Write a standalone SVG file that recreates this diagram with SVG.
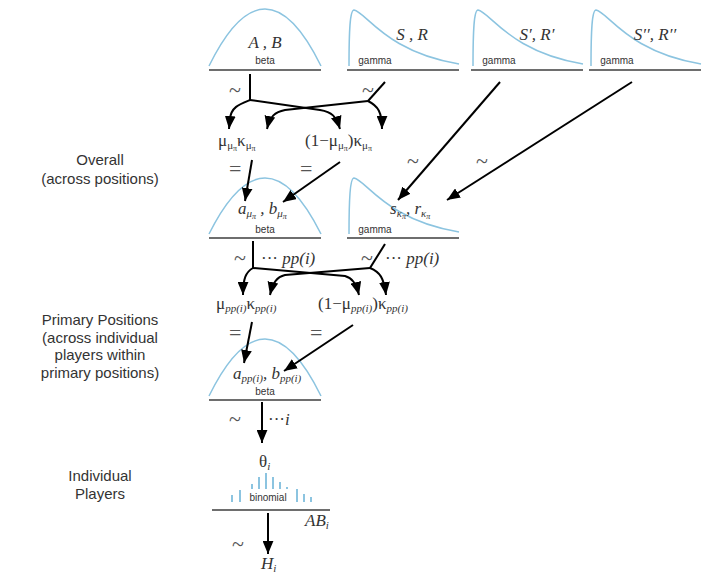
<svg xmlns="http://www.w3.org/2000/svg" width="702" height="573" viewBox="0 0 702 573">
<style>
.dist{fill:none;stroke:#8cc4e0;stroke-width:1.5}
.base{stroke:#6e6e6e;stroke-width:2}
.lbl{font-family:"Liberation Sans",Arial,sans-serif;font-size:10px;fill:#333}
.math{font-family:"Liberation Serif","Times New Roman",serif;font-style:italic;font-size:17px;fill:#333}
.greek{font-family:"Liberation Serif","Times New Roman",serif;font-size:17px;fill:#333}
.sym{font-family:"Liberation Serif","Times New Roman",serif;font-size:22px;fill:#555}
.side{font-family:"Liberation Sans",Arial,sans-serif;font-size:15px;fill:#333;text-anchor:middle}
.con{fill:none;stroke:#000;stroke-width:2}
.bar{stroke:#8cc4e0;stroke-width:2}
.s1{font-size:11px}
.s2{font-size:8px}
</style>
<defs>
<marker id="ah" viewBox="0 0 12 10" refX="12" refY="5" markerWidth="13" markerHeight="11" markerUnits="userSpaceOnUse" orient="auto">
<path d="M0,0 L12,5 L0,10 Z" fill="#000"/>
</marker>
</defs>

<rect width="702" height="573" fill="#fff"/>

<g id="label-overall">
<text class="side" x="100" y="165">Overall</text>
<text class="side" x="100" y="184">(across positions)</text>
</g>
<g id="label-primary">
<text class="side" x="100" y="325">Primary Positions</text>
<text class="side" x="100" y="343">(across individual</text>
<text class="side" x="100" y="360">players within</text>
<text class="side" x="100" y="378">primary positions)</text>
</g>
<g id="label-individual">
<text class="side" x="100" y="481">Individual</text>
<text class="side" x="100" y="499">Players</text>
</g>

<g id="beta-AB">
<path class="dist" d="M209,66 Q265,-48 321,66"/>
<line class="base" x1="209" y1="70" x2="321" y2="70"/>
<text class="math" x="265" y="48" text-anchor="middle">A , B</text>
<text class="lbl" x="265" y="64" text-anchor="middle">beta</text>
</g>
<g id="gamma-SR">
<path class="dist" d="M349,66 C349,30 350,10 354,10 C366,12 386,52 459,64"/>
<line class="base" x1="347" y1="70" x2="459" y2="70"/>
<text class="math" x="412" y="40" text-anchor="middle">S , R</text>
<text class="lbl" x="375" y="64" text-anchor="middle">gamma</text>
</g>
<g id="gamma-SR1">
<path class="dist" d="M473,66 C473,30 474,10 478,10 C490,12 510,52 583,64"/>
<line class="base" x1="471" y1="70" x2="583" y2="70"/>
<text class="math" x="537" y="40" text-anchor="middle">S′, R′</text>
<text class="lbl" x="499" y="64" text-anchor="middle">gamma</text>
</g>
<g id="gamma-SR2">
<path class="dist" d="M591,66 C591,30 592,10 596,10 C608,12 628,52 701,64"/>
<line class="base" x1="589" y1="70" x2="701" y2="70"/>
<text class="math" x="655" y="40" text-anchor="middle">S′′, R′′</text>
<text class="lbl" x="617" y="64" text-anchor="middle">gamma</text>
</g>

<g id="node-mukappa">
<text class="greek" x="218" y="146">μ<tspan class="s1" dy="3">μ</tspan><tspan class="s2" dy="2">π</tspan><tspan dy="-5">κ</tspan><tspan class="s1" dy="3">μ</tspan><tspan class="s2" dy="2">π</tspan></text>
</g>
<g id="node-1mukappa">
<text class="greek" x="305" y="146">(1−μ<tspan class="s1" dy="3">μ</tspan><tspan class="s2" dy="2">π</tspan><tspan dy="-5">)κ</tspan><tspan class="s1" dy="3">μ</tspan><tspan class="s2" dy="2">π</tspan></text>
</g>

<g id="beta-ab-overall">
<path class="dist" d="M209,234 Q265,122 321,234"/>
<line class="base" x1="209" y1="238" x2="321" y2="238"/>
<text class="math" x="238" y="214">a<tspan class="s1" dy="3">μ</tspan><tspan class="s2" dy="2">π</tspan><tspan dy="-5"> , b</tspan><tspan class="s1" dy="3">μ</tspan><tspan class="s2" dy="2">π</tspan></text>
<text class="lbl" x="265" y="233" text-anchor="middle">beta</text>
</g>
<g id="gamma-sr-overall">
<path class="dist" d="M349,234 C349,200 350,178 354,178 C366,180 386,220 459,232"/>
<line class="base" x1="347" y1="238" x2="459" y2="238"/>
<text class="math" x="390" y="214">s<tspan class="s1" dy="3">κ</tspan><tspan class="s2" dy="2">π</tspan><tspan dy="-5">, r</tspan><tspan class="s1" dy="3">κ</tspan><tspan class="s2" dy="2">π</tspan></text>
<text class="lbl" x="375" y="233" text-anchor="middle">gamma</text>
</g>

<g id="node-mukappa-pp">
<text class="greek" x="216" y="309">μ<tspan class="math s1" dy="3">pp(i)</tspan><tspan dy="-3">κ</tspan><tspan class="math s1" dy="3">pp(i)</tspan></text>
</g>
<g id="node-1mukappa-pp">
<text class="greek" x="318" y="309">(1−μ<tspan class="math s1" dy="3">pp(i)</tspan><tspan dy="-3">)κ</tspan><tspan class="math s1" dy="3">pp(i)</tspan></text>
</g>

<g id="beta-ab-pp">
<path class="dist" d="M209,396 Q265,282 321,396"/>
<line class="base" x1="209" y1="400" x2="321" y2="400"/>
<text class="math" x="233" y="379">a<tspan class="s1" dy="3">pp(i)</tspan><tspan dy="-3">, b</tspan><tspan class="s1" dy="3">pp(i)</tspan></text>
<text class="lbl" x="265" y="395" text-anchor="middle">beta</text>
</g>

<g id="theta-i">
<text class="greek" x="259" y="467">θ<tspan class="math s1" dy="3">i</tspan></text>
</g>

<g id="binomial">
<line class="bar" x1="232" y1="495" x2="232" y2="502"/>
<line class="bar" x1="240" y1="490" x2="240" y2="502"/>
<line class="bar" x1="252" y1="484" x2="252" y2="489"/>
<line class="bar" x1="259" y1="477" x2="259" y2="489"/>
<line class="bar" x1="266" y1="473" x2="266" y2="489"/>
<line class="bar" x1="273" y1="477" x2="273" y2="489"/>
<line class="bar" x1="280" y1="482" x2="280" y2="489"/>
<line class="bar" x1="287" y1="487" x2="287" y2="489"/>
<line class="bar" x1="297" y1="489" x2="297" y2="502"/>
<line class="bar" x1="304" y1="494" x2="304" y2="502"/>
<line class="bar" x1="311" y1="497" x2="311" y2="502"/>
<line class="base" x1="212" y1="510" x2="330" y2="510"/>
<text class="lbl" x="268" y="501" text-anchor="middle">binomial</text>
<text class="math" x="305" y="526">AB<tspan class="s1" dy="3">i</tspan></text>
</g>

<g id="node-H">
<text class="math" x="261" y="569">H<tspan class="s1" dy="3">i</tspan></text>
</g>

<g id="connectors">
<!-- level 1 -->
<text class="sym" x="229" y="97">~</text>
<line class="con" x1="250" y1="74" x2="250" y2="100"/>
<path class="con" d="M250,100 C240,104 231,107 230,119 L229,129" marker-end="url(#ah)"/>
<path class="con" d="M250,100 L320,110 C332,112 336,116 340,129" marker-end="url(#ah)"/>
<text class="sym" x="362" y="97">~</text>
<line class="con" x1="385" y1="82" x2="368" y2="101"/>
<path class="con" d="M368,101 C378,106 382,112 382,129" marker-end="url(#ah)"/>
<path class="con" d="M368,101 L285,110 C275,112 270,116 267,129" marker-end="url(#ah)"/>

<text class="sym" x="229" y="176">=</text>
<text class="sym" x="300" y="176">=</text>
<line class="con" x1="252" y1="160" x2="245" y2="201" marker-end="url(#ah)"/>
<line class="con" x1="340" y1="162" x2="283" y2="202" marker-end="url(#ah)"/>

<text class="sym" x="407" y="168">~</text>
<text class="sym" x="476" y="168">~</text>
<line class="con" x1="500" y1="82" x2="398" y2="200" marker-end="url(#ah)"/>
<line class="con" x1="632" y1="82" x2="447" y2="200" marker-end="url(#ah)"/>

<!-- level 2 -->
<text class="sym" x="234" y="265">~</text>
<line class="con" x1="253" y1="241" x2="253" y2="268"/>
<text class="math" x="261" y="264"><tspan font-style="normal">···</tspan> pp(i)</text>
<path class="con" d="M253,268 C246,272 243,278 243,295" marker-end="url(#ah)"/>
<path class="con" d="M253,268 L345,276 C352,278 356,283 359,295" marker-end="url(#ah)"/>
<text class="sym" x="361" y="265">~</text>
<line class="con" x1="385" y1="244" x2="370" y2="268"/>
<text class="math" x="385" y="264"><tspan font-style="normal">···</tspan> pp(i)</text>
<path class="con" d="M370,268 C380,272 384,278 386,295" marker-end="url(#ah)"/>
<path class="con" d="M370,268 L285,275 C277,277 273,282 270,295" marker-end="url(#ah)"/>

<text class="sym" x="229" y="340">=</text>
<text class="sym" x="310" y="340">=</text>
<line class="con" x1="252" y1="322" x2="244" y2="363" marker-end="url(#ah)"/>
<line class="con" x1="353" y1="325" x2="284" y2="371" marker-end="url(#ah)"/>

<!-- level 3 -->
<text class="sym" x="229" y="426">~</text>
<line class="con" x1="262" y1="402" x2="262" y2="443" marker-end="url(#ah)"/>
<text class="math" x="268" y="425"><tspan font-style="normal">···</tspan>i</text>

<text class="sym" x="232" y="551">~</text>
<line class="con" x1="268" y1="513" x2="268" y2="554" marker-end="url(#ah)"/>
</g>
</svg>
